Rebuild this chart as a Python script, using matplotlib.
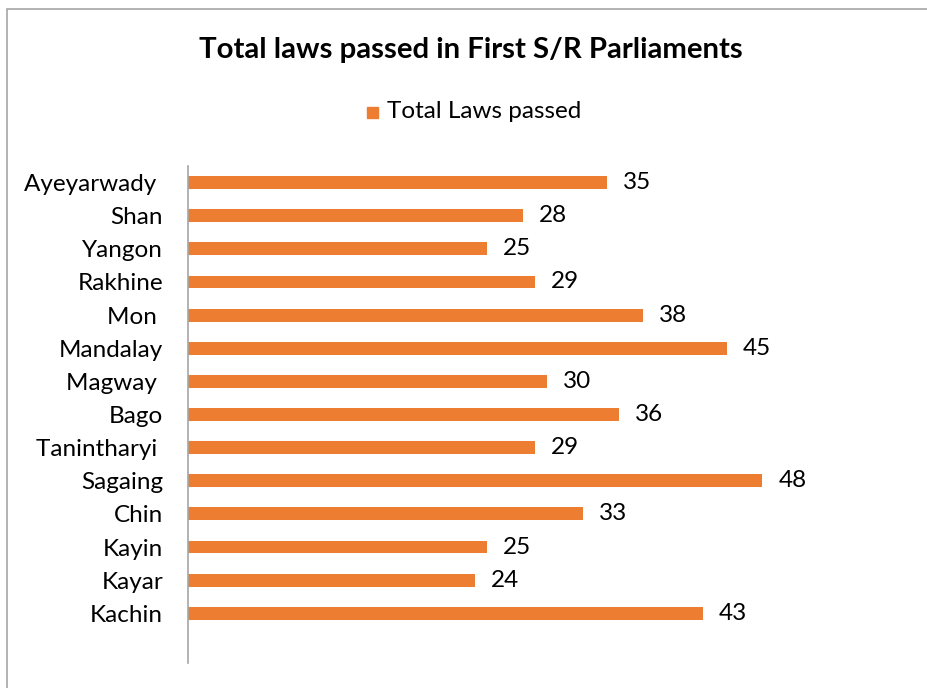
import matplotlib
matplotlib.use("Agg")
import matplotlib.pyplot as plt
from matplotlib.patches import Rectangle

regions = ["Ayeyarwady ", "Shan", "Yangon", "Rakhine", "Mon ", "Mandalay", "Magway ",
           "Bago", "Tanintharyi ", "Sagaing", "Chin", "Kayin", "Kayar", "Kachin"]
laws = [35, 28, 25, 29, 38, 45, 30, 36, 29, 48, 33, 25, 24, 43]
series_name = "Total Laws passed"
title = "Total laws passed in First S/R Parliaments"
color = "#ED7D31"

plt.rcParams['font.family'] = ['Lato', 'DejaVu Sans']

W, H = 927, 688
fig = plt.figure(figsize=(W / 100, H / 100), dpi=100)
fig.patches.append(Rectangle((7 / W, -0.01), 1.02, 1 - 9 / H + 0.01, transform=fig.transFigure,
                             fill=False, edgecolor="#A6A6A6", linewidth=1.2))

ax = fig.add_axes([188 / W, 25 / H, 718 / W, 497 / H])
n = len(regions)
ypos = list(range(n - 1, -1, -1))
ax.barh(ypos, laws, height=0.39, color=color)
ax.set_xlim(0, 60)
ax.set_ylim(-1.5, n - 0.5)
ax.set_yticks(ypos)
ax.set_yticklabels(regions, fontsize=17.5)
ax.tick_params(axis='y', length=0, pad=18)
ax.set_xticks([])
for s in ["top", "right", "bottom"]:
    ax.spines[s].set_visible(False)
ax.spines["left"].set_color("#A6A6A6")
ax.spines["left"].set_linewidth(1.2)
for y, v in zip(ypos, laws):
    ax.annotate(str(v), (v, y), xytext=(16, 0), textcoords="offset pixels",
                va="center", ha="left", fontsize=17.5)

fig.text(0.508, 1 - 50 / H, title, ha="center", va="center", fontsize=21.2, fontweight="bold")
fig.patches.append(Rectangle((367 / W, 1 - 118 / H), 11 / W, 11 / H, transform=fig.transFigure,
                             color=color))
fig.text(387 / W, 1 - 112 / H, series_name, ha="left", va="center", fontsize=17.5)

fig.savefig("out.png", dpi=100)
